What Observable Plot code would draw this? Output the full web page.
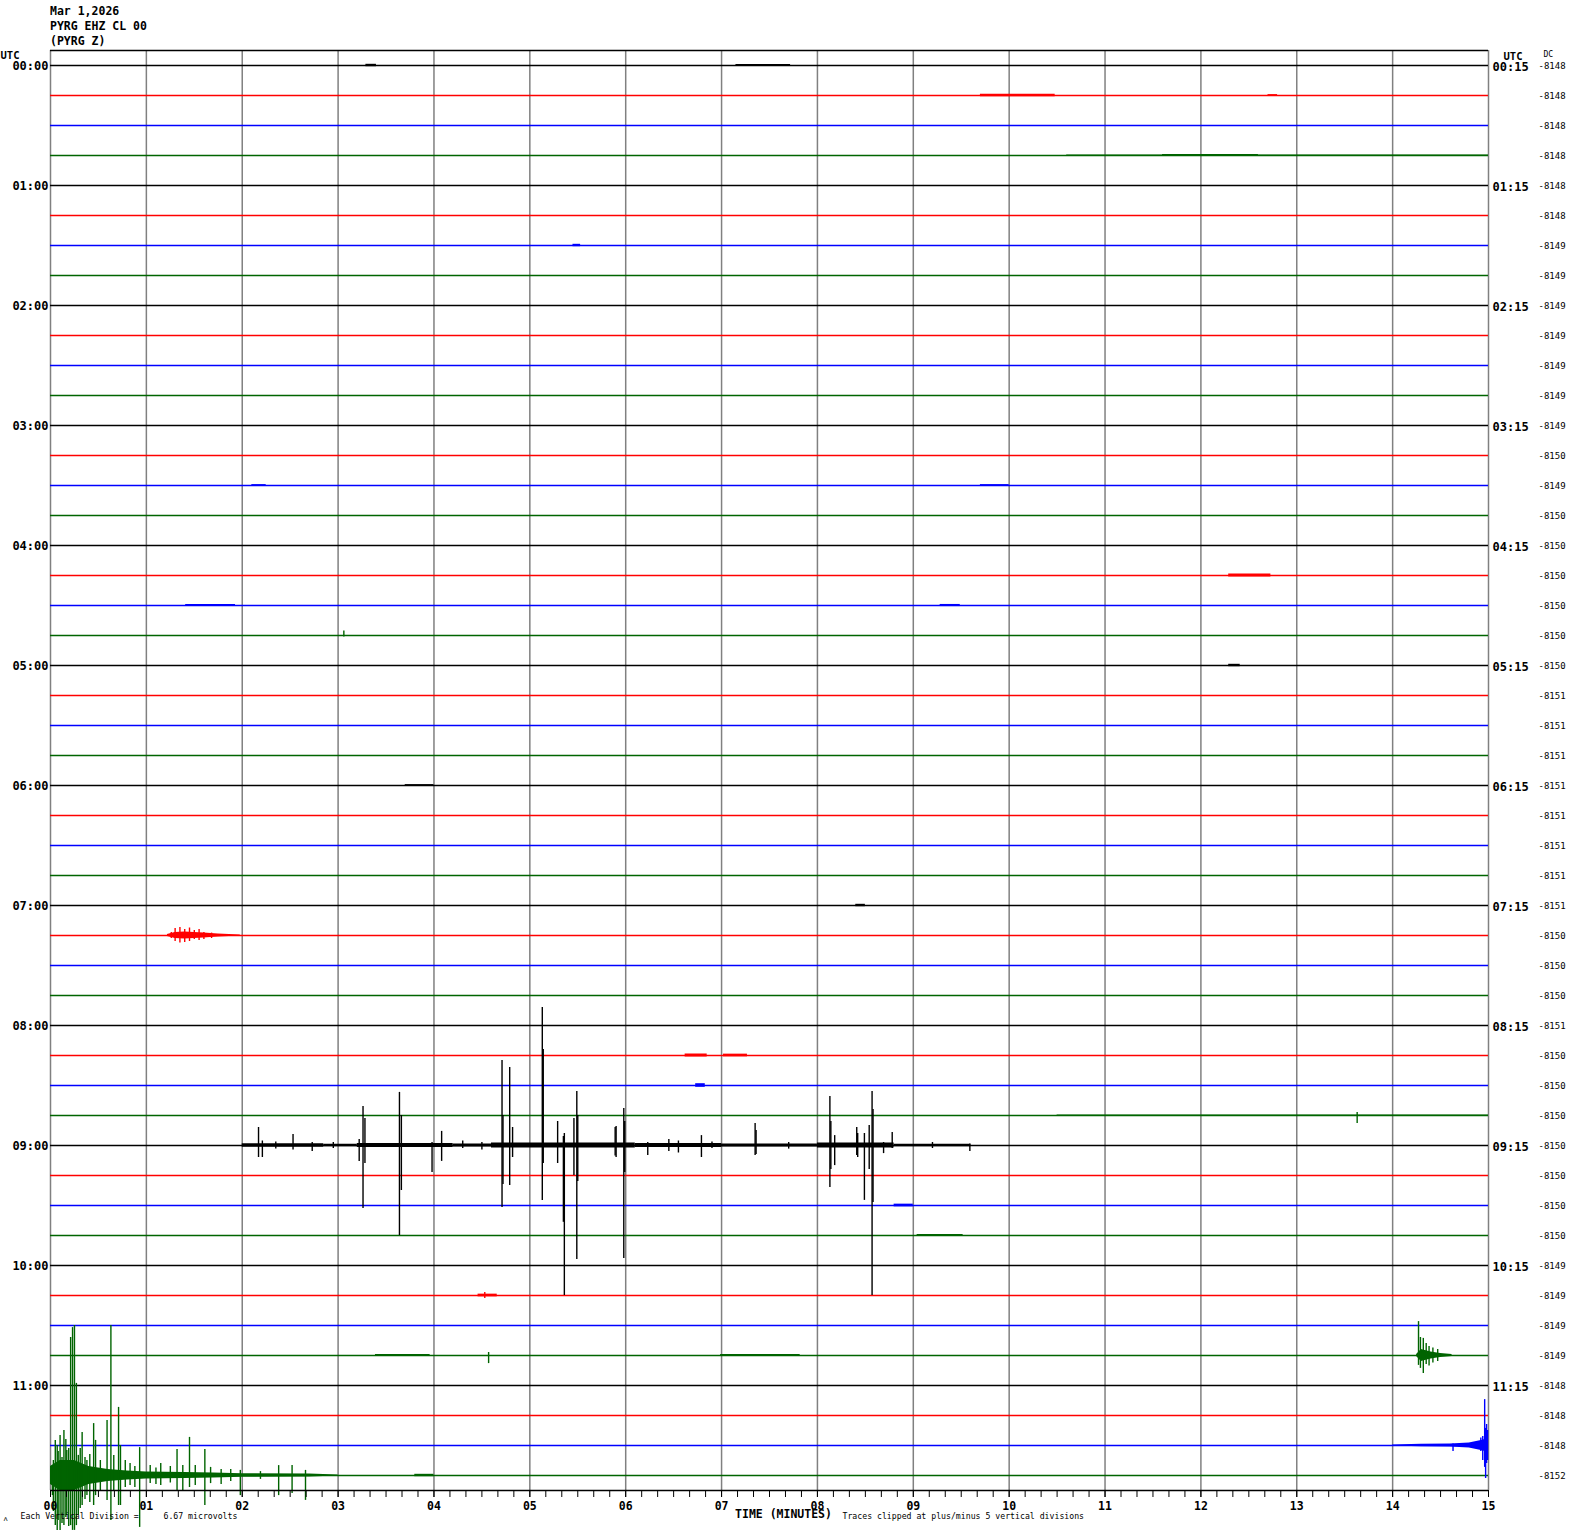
<!DOCTYPE html>
<html><head><meta charset="utf-8">
<script src="https://cdn.jsdelivr.net/npm/d3@7"></script>
<script src="https://cdn.jsdelivr.net/npm/@observablehq/plot@0.6"></script>
<style>
body{margin:0;background:#fff;}
#header{height:48px;box-sizing:border-box;padding:4px 0 0 50px;font:bold 11.5px "DejaVu Sans Mono",monospace;line-height:15px;color:#000;}
#chart svg{display:block;}
</style></head><body>
<div id="header"><div>Mar 1,2026</div><div>PYRG EHZ CL 00</div><div>(PYRG Z)</div></div>
<div id="chart"></div>
<script>
// ---- DATA ----
const traceColors = ["#000000", "#ff0000", "#0000ff", "#006400"];
const traceCount = 48;
const minuteLabels = ["00","01","02","03","04","05","06","07","08","09","10","11","12","13","14","15"];
const leftTimeLabels = ["00:00","01:00","02:00","03:00","04:00","05:00","06:00","07:00","08:00","09:00","10:00","11:00"];
const rightTimeLabels = ["00:15","01:15","02:15","03:15","04:15","05:15","06:15","07:15","08:15","09:15","10:15","11:15"];
const dcValues = [-8148,-8148,-8148,-8148,-8148,-8148,-8149,-8149,-8149,-8149,-8149,-8149,
  -8149,-8150,-8149,-8150,-8150,-8150,-8150,-8150,-8150,-8151,-8151,-8151,
  -8151,-8151,-8151,-8151,-8151,-8150,-8150,-8150,-8151,-8150,-8150,-8150,
  -8150,-8150,-8150,-8150,-8149,-8149,-8149,-8149,-8148,-8148,-8148,-8152];

// spikes: [minute, up (divisions), down (divisions)]
const spikes0900 = [ // trace 36 (09:00)
  [2.17,0.6,0.4],[2.21,0.15,0.4],[2.53,0.37,0.15],[2.73,0.1,0.2],[3.22,0.2,0.53],[3.26,1.3,2.1],
  [3.28,0.9,0.6],[3.64,1.77,3.0],[3.66,1.0,1.5],[3.98,0.1,0.9],[4.08,0.47,0.53],[4.71,2.83,2.07],
  [4.72,1.0,1.3],[4.79,2.6,1.33],[4.82,0.6,0.4],[5.13,4.6,1.83],[5.14,3.2,0.6],[5.29,0.8,0.6],
  [5.35,0.3,2.56],[5.36,0.4,5.0],[5.46,0.9,1.0],[5.49,1.8,3.8],[5.50,1.0,1.2],[5.89,0.6,0.35],
  [5.90,0.63,0.4],[5.98,1.23,3.77],[5.99,0.8,0.9],[6.23,0.1,0.33],[6.45,0.2,0.2],[6.55,0.15,0.25],
  [6.79,0.33,0.4],[7.35,0.73,0.33],[7.36,0.5,0.3],[8.13,1.63,1.4],[8.14,0.8,0.8],[8.18,0.33,0.67],
  [8.41,0.6,0.33],[8.42,0.4,0.4],[8.49,0.4,1.83],[8.54,0.67,0.8],[8.57,1.8,5.0],[8.58,1.2,1.9],
  [8.69,0.1,0.27],[8.78,0.43,0.1],[9.59,0.05,0.2],[2.35,0.12,0.12],[2.95,0.1,0.1],[4.3,0.15,0.1],
  [4.5,0.1,0.15],[6.9,0.12,0.1],[7.7,0.1,0.12],[9.2,0.1,0.1]
];
const spikes1145 = [ // trace 47 (11:45)
  [0.02,0.33,0.67],[0.03,0.5,1.2],[0.05,1.17,1.67],[0.07,1.0,1.83],[0.08,0.8,1.5],[0.10,1.33,1.83],
  [0.12,0.6,1.6],[0.14,1.5,1.67],[0.16,1.2,1.4],[0.17,0.83,1.33],[0.19,0.9,1.7],
  [0.21,4.6,1.67],[0.23,4.93,1.83],[0.25,5.0,1.83],[0.27,3.07,1.67],[0.29,0.67,1.33],[0.31,0.9,1.1],
  [0.33,1.43,1.0],[0.36,0.6,0.8],[0.38,0.5,0.67],[0.41,0.7,0.9],
  [0.45,1.73,1.0],[0.47,1.17,0.67],[0.52,0.5,0.5],[0.59,1.83,0.83],[0.63,5.0,1.5],
  [0.66,0.67,0.5],[0.71,2.27,1.0],[0.73,1.0,1.0],[0.78,0.5,0.4],[0.83,0.4,0.33],[0.93,0.93,1.73],
  [1.04,0.33,0.27],[1.15,0.4,0.33],[1.32,0.87,0.5],[1.38,0.33,0.5],[1.45,1.27,0.4],[1.51,0.33,0.33],
  [1.61,0.87,1.0],[1.67,0.27,0.27],[1.88,0.2,0.2],[1.98,0.17,0.67],[2.19,0.13,0.13],[2.38,0.33,0.67],
  [2.52,0.33,0.6],[2.66,0.17,0.83],[0.88,0.3,0.4],[1.1,0.25,0.3],[1.25,0.3,0.25],[1.78,0.2,0.3]
];
const spikes0715 = [ // trace 29 (07:15)
  [1.26,0.1,0.1],[1.3,0.23,0.2],[1.35,0.27,0.25],[1.4,0.2,0.23],[1.45,0.25,0.2],[1.5,0.17,0.13],
  [1.55,0.2,0.17],[1.6,0.1,0.13],[1.68,0.08,0.1]
];
const spikes1045 = [ // trace 43 (10:45)
  [4.57,0.1,0.27],[14.27,1.13,0.33],[14.29,0.6,0.43],[14.32,0.57,0.6],[14.35,0.4,0.3],
  [14.38,0.3,0.35],[14.42,0.25,0.25],[14.47,0.2,0.2]
];
const spikes1130 = [ // trace 46 (11:30)
  [14.63,0.05,0.2],[14.92,0.25,0.2],[14.94,0.3,0.5],[14.96,1.53,0.73],[14.97,0.57,1.1],
  [14.98,0.7,0.6],[14.99,0.5,0.5]
];
const spikesOther = [ // [trace, minute, up, down]
  [19,3.06,0.15,0.05],[35,13.63,0.1,0.27],[41,4.53,0.1,0.1]
];
// noise bursts: [trace, start minute, end minute, half-amplitude (divisions)]
const bursts = [
  [0,3.29,3.40,0.04],[0,7.15,7.72,0.03],[1,9.70,10.48,0.04],[1,12.70,12.80,0.03],
  [3,10.6,15.0,0.02],[3,11.6,12.6,0.035],[6,5.45,5.53,0.04],[14,2.10,2.25,0.03],[14,9.70,10.0,0.03],
  [17,12.29,12.73,0.05],[18,1.41,1.93,0.035],[18,9.28,9.49,0.035],[20,12.29,12.41,0.04],
  [24,3.70,4.00,0.03],[28,8.40,8.50,0.04],[33,6.62,6.85,0.05],[33,7.02,7.27,0.045],
  [34,6.73,6.83,0.06],[35,10.5,15.0,0.02],[38,8.80,9.00,0.045],[39,9.04,9.52,0.035],
  [41,4.46,4.66,0.045],[43,3.39,3.96,0.03],[43,6.99,7.82,0.035],[47,3.80,4.00,0.04],
  [36,2.0,2.85,0.06],[36,2.85,3.2,0.04],[36,3.2,4.2,0.07],[36,4.2,4.6,0.05],[36,4.6,6.1,0.08],
  [36,6.1,7.0,0.07],[36,7.0,8.0,0.05],[36,8.0,8.8,0.08],[36,8.8,9.6,0.04]
];
// envelopes: [minute, half-amplitude (divisions)]
const envelope0715 = [[1.22,0.03],[1.3,0.1],[1.4,0.12],[1.5,0.1],[1.6,0.08],[1.75,0.05],[1.98,0.02]]; // trace 29
const envelope1045 = [[14.25,0.03],[14.3,0.2],[14.4,0.12],[14.5,0.07],[14.62,0.03]]; // trace 43
const envelope1130 = [[14.0,0.02],[14.3,0.04],[14.6,0.05],[14.8,0.08],[14.95,0.18],[15.0,0.3]]; // trace 46
const envelope1145 = [[0,0.3],[0.1,0.5],[0.25,0.5],[0.4,0.3],[0.6,0.2],[0.8,0.15],[1.0,0.12],[1.4,0.1],[1.7,0.08],[2.0,0.06],[2.7,0.05],[3.0,0.02]]; // trace 47

// ---- BUILD TABLES ----
const colorOf = i => traceColors[i % 4];
const traces = d3.range(traceCount).map(i => ({i, color: colorOf(i)}));
const spikeRows = [
  ...spikes0900.map(([m,u,d]) => ({t:36,m,u,d})),
  ...spikes1145.map(([m,u,d]) => ({t:47,m,u,d})),
  ...spikes0715.map(([m,u,d]) => ({t:29,m,u,d})),
  ...spikes1045.map(([m,u,d]) => ({t:43,m,u,d})),
  ...spikes1130.map(([m,u,d]) => ({t:46,m,u,d})),
  ...spikesOther.map(([t,m,u,d]) => ({t,m,u,d}))
].map(r => ({...r, color: colorOf(r.t)}));
const areaRows = [];
bursts.forEach(([t,m1,m2,a], k) => {
  areaRows.push({id:"b"+k, t, m:m1, a, color: colorOf(t)});
  areaRows.push({id:"b"+k, t, m:m2, a, color: colorOf(t)});
});
[[29,envelope0715],[43,envelope1045],[46,envelope1130],[47,envelope1145]].forEach(([t,env], k) => {
  env.forEach(([m,a]) => areaRows.push({id:"e"+k, t, m, a, color: colorOf(t)}));
});
const minuteTicks = d3.range(0, 16);
const subTicks = d3.range(0, 91).map(k => k / 6);

const chart = Plot.plot({
  width: 1570,
  height: 1486,
  marginTop: 2,
  marginBottom: 44,
  marginLeft: 50,
  marginRight: 82,
  style: {fontFamily: "'DejaVu Sans Mono', monospace", fontSize: "11.5px", fontWeight: "bold", background: "white", color: "black", overflow: "visible"},
  x: {domain: [0, 15], label: null},
  y: {domain: [-0.5, 47.5], reverse: true, axis: null, label: null},
  color: {type: "identity"},
  marks: [
    Plot.ruleX(minuteTicks, {x: d => d, y1: -0.5, y2: 47.5, stroke: "#808080", strokeWidth: 1.5}),
    Plot.ruleY([-0.5], {x1: 0, x2: 15, stroke: "black", strokeWidth: 1.5}),
    Plot.ruleY(traces, {y: "i", x1: 0, x2: 15, stroke: "color", strokeWidth: 1.4}),
    Plot.areaY(areaRows, {x: "m", y1: d => d.t - d.a, y2: d => d.t + d.a, z: "id", fill: "color", curve: "linear"}),
    Plot.ruleX(spikeRows, {x: "m", y1: d => d.t - d.u, y2: d => d.t + d.d, stroke: "color", strokeWidth: 1.4}),
    Plot.ruleY([47.5], {x1: 0, x2: 15, stroke: "black", strokeWidth: 1.5}),
    Plot.axisX({ticks: subTicks, tickFormat: () => "", tickSize: 7, stroke: "black", label: null}),
    Plot.axisX({ticks: minuteTicks, tickFormat: d => minuteLabels[d], tickSize: 7, tickPadding: 4, fontSize: 11.5, fontWeight: "bold", label: null}),
    Plot.text(leftTimeLabels, {x: 0, y: (d, k) => k * 4, dx: -2, dy: 1, textAnchor: "end", fontSize: 12, fontWeight: "bold"}),
    Plot.text(rightTimeLabels, {x: 15, y: (d, k) => k * 4, dx: 4, dy: 2, textAnchor: "start", fontSize: 12, fontWeight: "bold"}),
    Plot.text(["UTC"], {x: 0, y: -0.5, dx: -50, dy: 5, textAnchor: "start", fontSize: 10.5, fontWeight: "bold"}),
    Plot.text(["UTC"], {x: 15, y: -0.5, dx: 15, dy: 6, textAnchor: "start", fontSize: 10.5, fontWeight: "bold"}),
    Plot.text(["DC"], {x: 15, y: -0.5, dx: 55, dy: 4, textAnchor: "start", fontSize: 8, fontWeight: "normal"}),
    Plot.text(dcValues, {x: 15, y: (d, k) => k, text: d => String(d), dx: 50, dy: 1, textAnchor: "start", fontSize: 9, fontWeight: "normal"}),
    Plot.text(["TIME (MINUTES)"], {frameAnchor: "bottom", dx: 14, dy: 27, fontSize: 11.5, fontWeight: "bold"}),
    Plot.text(["Each Vertical Division =     6.67 microvolts"], {frameAnchor: "bottom-left", dx: -30, dy: 28, textAnchor: "start", fontSize: 8.2, fontWeight: "normal"}),
    Plot.text(["Traces clipped at plus/minus 5 vertical divisions"], {frameAnchor: "bottom-left", dx: 792, dy: 28, textAnchor: "start", fontSize: 8.2, fontWeight: "normal"}),
    Plot.text(["ʌ"], {frameAnchor: "bottom-left", dx: -47, dy: 30, textAnchor: "start", fontSize: 7, fontWeight: "normal"})
  ]
});
document.getElementById("chart").appendChild(chart);
</script></body></html>
